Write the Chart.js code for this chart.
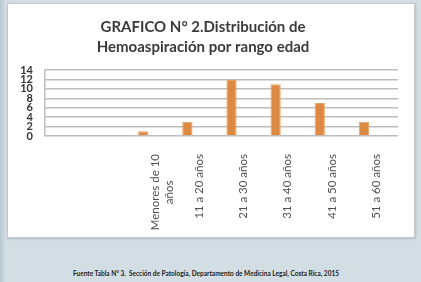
<!DOCTYPE html>
<html>
<head>
<meta charset="utf-8">
<script src="https://cdn.jsdelivr.net/npm/chart.js@4.4.1/dist/chart.umd.min.js"></script>
<style>
  body { margin: 0; width: 421px; height: 282px; overflow: hidden;
         background: linear-gradient(to right, #b8c8d0 0px, #d2dee4 6px, #d2dee4 100%); }
  #panel { position: absolute; left: 7px; top: 3px; width: 406px; height: 233px;
           background: #fff; border: 1px solid #c6c6c6; box-shadow: 1px 1px 2px rgba(0,0,0,0.15); }
  #fuente { position: absolute; left: 0; width: 412px; top: 270px; text-align: center;
            font: bold 6.5px Lato, sans-serif; color: #222; }
</style>
</head>
<body>
<div id="panel"><canvas id="grafico" width="406" height="233"></canvas></div>
<div id="fuente">Fuente Tabla N° 3.&nbsp; Sección de Patología, Departamento de Medicina Legal, Costa Rica, 2015</div>
<script>
// Datos
const categorias = ['', '', ['Menores de 10', 'años' + '\u00a0'.repeat(9)], '11 a 20 años', '21 a 30 años', '31 a 40 años', '41 a 50 años', '51 a 60 años'];
const casos = [null, null, 1, 3, 12, 11, 7, 3];
const vacio = [null, null, null, null, null, null, null, null];
const ticksY = [0, 2, 4, 6, 8, 10, 12, 14];

const ctx = document.getElementById('grafico').getContext('2d');
new Chart(ctx, {
    type: 'bar',
    data: {
        labels: categorias,
        datasets: [
            { label: 'Casos', data: casos, backgroundColor: '#dc8a43', borderColor: '#e7a368', borderWidth: 1 },
            { label: '', data: vacio },
            { label: '', data: vacio }
        ]
    },
    options: {
        responsive: false,
        animation: false,
        categoryPercentage: 0.82,
        barPercentage: 0.85,
        layout: { padding: { left: 0, right: 16, top: 0, bottom: 0 } },
        plugins: {
            legend: { display: false },
            tooltip: { enabled: false },
            title: {
                display: true,
                text: ['GRAFICO N° 2.Distribución de', 'Hemoaspiración por rango edad'],
                color: '#3a3a3a',
                font: { family: 'Lato', size: 15, weight: 'bold', lineHeight: 20 / 15 },
                padding: { top: 13, bottom: 13 }
            }
        },
        scales: {
            x: {
                grid: { display: false },
                border: { display: false },
                ticks: {
                    autoSkip: false,
                    minRotation: 90,
                    maxRotation: 90,
                    padding: 10,
                    color: '#505050',
                    font: { family: 'Lato', size: 11.5 }
                },
                afterFit: (s) => { s.height = 101; }
            },
            y: {
                min: 0,
                max: 14,
                afterBuildTicks: (s) => { s.ticks = ticksY.map(v => ({ value: v })); },
                grid: { color: '#bdbdbd', lineWidth: 1.5, drawTicks: false },
                border: { display: true, color: '#bdbdbd', width: 1.5 },
                ticks: {
                    autoSkip: false,
                    padding: 12,
                    color: '#333',
                    font: { family: 'Lato', size: 11, weight: 'bold', lineHeight: 1 }
                },
                afterFit: (s) => { s.width = 37; }
            }
        }
    }
});
</script>
</body>
</html>
